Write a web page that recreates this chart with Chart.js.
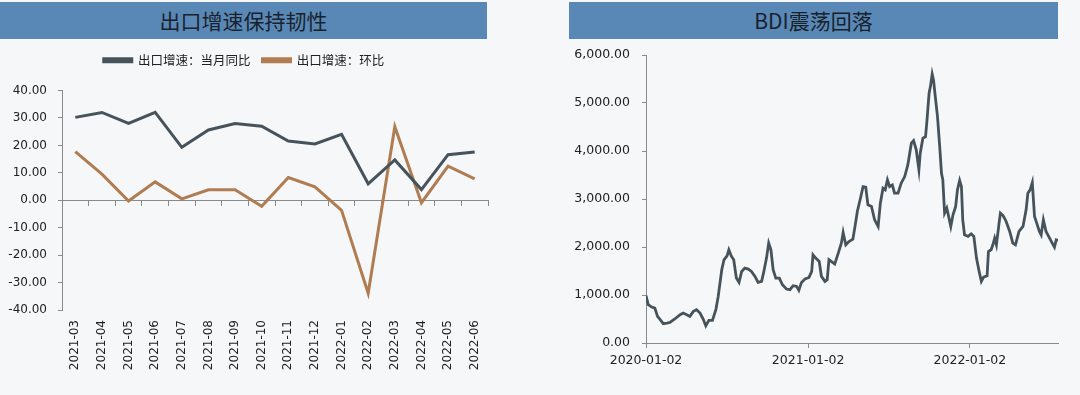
<!DOCTYPE html>
<html>
<head>
<meta charset="utf-8">
<script src="https://cdn.jsdelivr.net/npm/chart.js@4.4.0/dist/chart.umd.min.js"></script>
<style>
  body { margin: 0; background: #f6f7f9; width: 1080px; height: 395px; position: relative; overflow: hidden; }
  .bar { position: absolute; top: 2px; height: 37px; background: #5a88b6; color: #18222c;
         font: 21px 'Noto Sans CJK SC', sans-serif; text-align: center; line-height: 37px; }
  canvas { position: absolute; top: 0; }
</style>
</head>
<body>
<canvas id="exportChart" width="500" height="395" style="left:0"></canvas>
<canvas id="bdiChart" width="520" height="395" style="left:560px"></canvas>
<div class="bar" style="left:0;width:487px">出口增速保持韧性</div>
<div class="bar" style="left:569px;width:489px">BDI震荡回落</div>
<script>
// 出口增速（%）
const months = ['2021-03', '2021-04', '2021-05', '2021-06', '2021-07', '2021-08', '2021-09', '2021-10',
                '2021-11', '2021-12', '2022-01', '2022-02', '2022-03', '2022-04', '2022-05', '2022-06'];
const yoyGrowth = [30.2, 32.0, 28.0, 32.0, 19.3, 25.6, 28.0, 27.0, 21.6, 20.5, 24.0, 6.0, 14.7, 3.9, 16.6, 17.6];
const momGrowth = [17.7, 9.5, -0.3, 6.7, 0.5, 3.8, 3.8, -2.2, 8.3, 4.9, -3.7, -33.9, 26.8, -0.9, 12.4, 7.8];

// BDI：距 2020-01-02 的天数 与 指数值
const bdiDay = [0, 5, 13, 20, 26, 32, 39, 47, 54, 65,
  77, 84, 92, 99, 107, 114, 122, 129, 135, 142,
  150, 158, 163, 171, 176, 183, 187, 193, 198, 204,
  210, 216, 223, 231, 238, 246, 253, 261, 266, 272,
  277, 282, 287, 293, 301, 308, 317, 325, 332, 340,
  345, 351, 359, 368, 374, 377, 383, 391, 396, 404,
  409, 413, 421, 426, 434, 441, 445, 451, 458, 467,
  473, 477, 485, 490, 496, 501, 509, 516, 524, 529,
  535, 540, 545, 550, 556, 561, 569, 576, 584, 591,
  599, 604, 610, 616, 619, 625, 631, 634, 639, 642,
  646, 649, 653, 658, 663, 667, 670, 674, 679, 684,
  688, 693, 699, 703, 708, 712, 715, 719, 727, 734,
  740, 746, 752, 757, 762, 770, 773, 779, 783, 787,
  791, 797, 800, 806, 813, 821, 828, 834, 842, 851,
  858, 862, 867, 872, 877, 882, 888, 892, 897, 903,
  911, 917, 922, 926, 930];
const bdiValue = [990, 798, 749, 728, 555, 485, 402, 415, 430, 500,
  590, 624, 590, 555, 660, 694, 624, 500, 360, 472,
  472, 707, 971, 1526, 1734, 1817, 1942, 1803, 1734, 1352,
  1262, 1491, 1560, 1540, 1491, 1387, 1262, 1283, 1491, 1769,
  2081, 1942, 1526, 1352, 1352, 1214, 1124, 1110, 1193, 1179,
  1096, 1262, 1332, 1366, 1491, 1838, 1769, 1699, 1387, 1283,
  1318, 1734, 1678, 1644, 1873, 2081, 2303, 2046, 2115, 2164,
  2497, 2740, 3052, 3259, 3246, 2878, 2844, 2566, 2428, 2913,
  3225, 3190, 3399, 3259, 3294, 3121, 3121, 3329, 3468, 3711,
  4162, 4217, 4023, 3607, 3954, 4266, 4300, 4612, 5202, 5341,
  5604, 5479, 5133, 4716, 4092, 3537, 3399, 2705, 2809, 2601,
  2428, 2670, 2844, 3190, 3385, 3259, 2566, 2254, 2220, 2275,
  2220, 1769, 1491, 1283, 1373, 1401, 1907, 1942, 2046, 2185,
  2046, 2497, 2705, 2656, 2532, 2324, 2081, 2046, 2324, 2428,
  2774, 3121, 3190, 3343, 2636, 2497, 2324, 2254, 2566, 2324,
  2185, 2081, 1998, 2150, 2136];
const bdiTickDays = [0, 366, 731];
const bdiTickLabels = ['2020-01-02', '2021-01-02', '2022-01-02'];

Chart.defaults.font.family = "'DejaVu Sans', 'Noto Sans CJK SC', sans-serif";
Chart.defaults.color = '#222';

const axisColor = '#8a8a8a';
const grayLine = '#46535b';
const brownLine = '#b07d52';

// 图例与绘图区之间留出更大间距
const legendGap = {
  id: 'legendGap',
  beforeInit(chart) {
    const fit = chart.legend.fit;
    chart.legend.fit = function () {
      fit.bind(chart.legend)();
      this.height += 14;
    };
  }
};

new Chart(document.getElementById('exportChart'), {
  type: 'line',
  data: {
    labels: months,
    datasets: [
      { label: '出口增速：当月同比', data: yoyGrowth, borderColor: grayLine, backgroundColor: grayLine,
        borderWidth: 3, pointRadius: 0, tension: 0 },
      { label: '出口增速：环比', data: momGrowth, borderColor: brownLine, backgroundColor: brownLine,
        borderWidth: 3, pointRadius: 0, tension: 0 }
    ]
  },
  plugins: [legendGap],
  options: {
    responsive: false,
    animation: false,
    layout: { padding: { top: 42, right: 12, left: 0, bottom: 0 } },
    plugins: {
      legend: {
        labels: { boxWidth: 28, boxHeight: 3, padding: 12, color: '#222',
                  font: { family: "'Noto Sans CJK SC'", size: 12.5 } }
      },
      tooltip: { enabled: false }
    },
    scales: {
      x: {
        type: 'category', position: { y: 0 }, offset: true,
        ticks: { display: false },
        grid: { display: true, offset: true, drawOnChartArea: false, tickLength: 5, color: axisColor },
        border: { color: axisColor }
      },
      x2: {
        type: 'category', labels: months, position: 'bottom', offset: true,
        grid: { display: false, drawTicks: false },
        border: { display: false },
        ticks: { maxRotation: 90, minRotation: 90, padding: 10, autoSkip: false, font: { size: 12 } },
        afterFit(s) { s.height = 85; }
      },
      y: {
        min: -40, max: 40,
        ticks: { stepSize: 10, callback: v => v.toFixed(2), padding: 11, font: { size: 12 } },
        grid: { drawOnChartArea: false, tickLength: 4, color: axisColor },
        border: { color: axisColor },
        afterFit(s) { s.width = 62; }
      }
    }
  }
});

new Chart(document.getElementById('bdiChart'), {
  type: 'line',
  data: {
    datasets: [{
      label: 'BDI',
      data: bdiDay.map((d, i) => ({ x: d, y: bdiValue[i] })),
      borderColor: grayLine, borderWidth: 2.8, pointRadius: 0, tension: 0
    }]
  },
  options: {
    responsive: false,
    animation: false,
    layout: { padding: { top: 55, right: 22, left: 0, bottom: 0 } },
    plugins: { legend: { display: false }, tooltip: { enabled: false } },
    scales: {
      x: {
        type: 'linear', min: 0, max: 930,
        afterBuildTicks(s) { s.ticks = bdiTickDays.map(v => ({ value: v })); },
        ticks: { callback: v => bdiTickLabels[bdiTickDays.indexOf(v)], padding: 5, maxRotation: 0,
                 autoSkip: false, font: { size: 12.5 } },
        grid: { drawOnChartArea: false, tickLength: 5, color: axisColor },
        border: { color: axisColor },
        afterFit(s) { s.height = 52; }
      },
      y: {
        min: 0, max: 6000,
        ticks: { stepSize: 1000, padding: 12, font: { size: 12.5 },
                 callback: v => v.toLocaleString('en-US', { minimumFractionDigits: 2, maximumFractionDigits: 2 }) },
        grid: { drawOnChartArea: false, tickLength: 4, color: axisColor },
        border: { color: axisColor },
        afterFit(s) { s.width = 86; }
      }
    }
  }
});
</script>
</body>
</html>
